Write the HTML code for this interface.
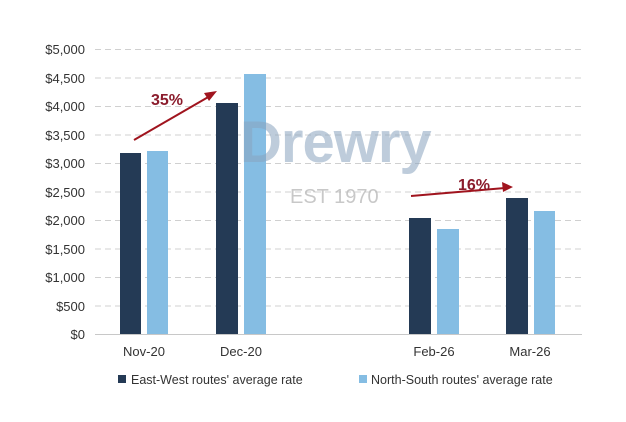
<!DOCTYPE html>
<html><head><style>body{margin:0;background:#fff}</style></head><body>
<svg width="626" height="417" xmlns="http://www.w3.org/2000/svg" font-family="Liberation Sans, Arial, sans-serif">
<rect width="626" height="417" fill="#fff"/>
<g stroke="#d0d0d0" stroke-dasharray="6,4" stroke-width="1">
<line x1="95" x2="582" y1="49.5" y2="49.5"/><line x1="95" x2="582" y1="78" y2="78"/>
<line x1="95" x2="582" y1="106.5" y2="106.5"/><line x1="95" x2="582" y1="135" y2="135"/>
<line x1="95" x2="582" y1="163.5" y2="163.5"/><line x1="95" x2="582" y1="192" y2="192"/>
<line x1="95" x2="582" y1="220.5" y2="220.5"/><line x1="95" x2="582" y1="249" y2="249"/>
<line x1="95" x2="582" y1="277.5" y2="277.5"/><line x1="95" x2="582" y1="306" y2="306"/>
</g>
<line x1="95" x2="582" y1="334.5" y2="334.5" stroke="#c8c8c8"/>
<g font-size="13" fill="#333" text-anchor="end">
<text x="85" y="54">$5,000</text><text x="85" y="83">$4,500</text><text x="85" y="111">$4,000</text>
<text x="85" y="140">$3,500</text><text x="85" y="168">$3,000</text><text x="85" y="197">$2,500</text>
<text x="85" y="225">$2,000</text><text x="85" y="254">$1,500</text><text x="85" y="282">$1,000</text>
<text x="85" y="311">$500</text><text x="85" y="339">$0</text>
</g>
<g fill="#243a55">
<rect x="120" y="153" width="21" height="181"/><rect x="216" y="103" width="22" height="231"/>
<rect x="409" y="218" width="22" height="116"/><rect x="506" y="198" width="22" height="136"/>
</g>
<g fill="#85bde3">
<rect x="147" y="151" width="21" height="183"/><rect x="244" y="74" width="22" height="260"/>
<rect x="437" y="229" width="22" height="105"/><rect x="534" y="211" width="21" height="123"/>
</g>
<text x="240" y="162" font-size="58" fill="#8aa4bf" opacity="0.55" font-weight="bold" letter-spacing="-1">Drewry</text>
<text x="290" y="203" font-size="20" fill="#bbb" opacity="0.8">EST 1970</text>
<g font-size="13" fill="#333" text-anchor="middle">
<text x="144" y="356">Nov-20</text><text x="241" y="356">Dec-20</text>
<text x="434" y="356">Feb-26</text><text x="530" y="356">Mar-26</text>
</g>
<g stroke="#a0141e" stroke-width="2" fill="#a0141e">
<line x1="134" y1="140" x2="210" y2="96"/><polygon points="217,91 204,93 209,101" stroke="none"/>
<line x1="411" y1="196" x2="505" y2="188"/><polygon points="513,187 502,182 503,192" stroke="none"/>
</g>
<text x="151" y="105" font-size="16" font-weight="bold" fill="#8b1c2c">35%</text>
<text x="458" y="190" font-size="16" font-weight="bold" fill="#8b1c2c">16%</text>
<rect x="118" y="375" width="8" height="8" fill="#243a55"/>
<text x="131" y="384" font-size="12.5" fill="#333">East-West routes' average rate</text>
<rect x="359" y="375" width="8" height="8" fill="#85bde3"/>
<text x="371" y="384" font-size="12.5" fill="#333">North-South routes' average rate</text>
</svg>
</body></html>
